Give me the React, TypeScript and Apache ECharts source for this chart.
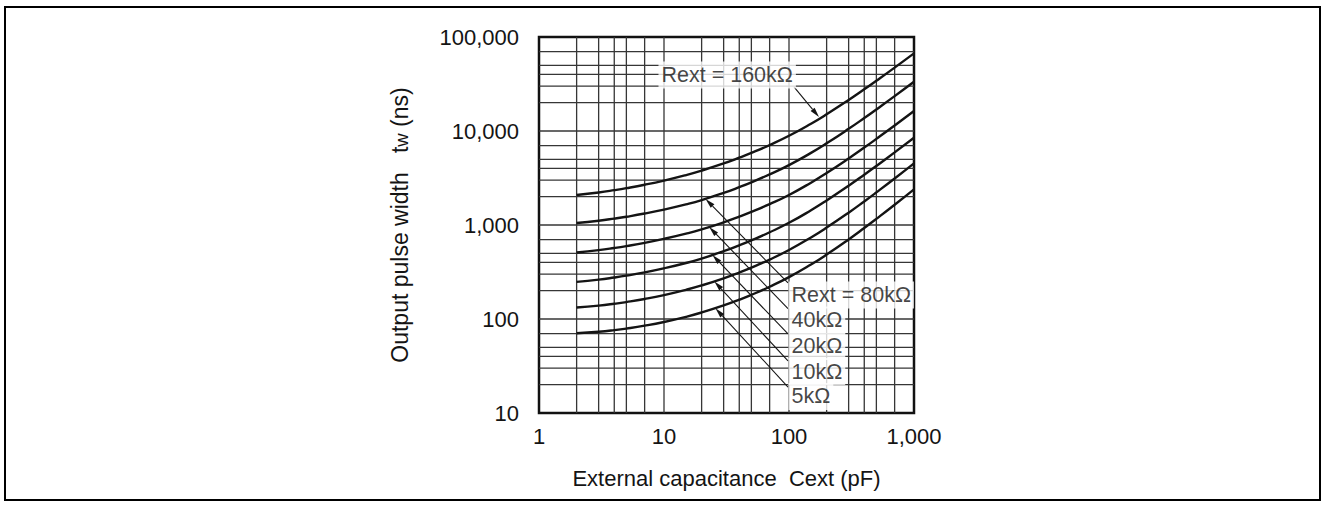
import { useEffect, useRef } from "react";
import * as echarts from "echarts";

// External capacitance Cext (pF) sample points
const capacitancePf = [2, 3, 4, 5, 7, 10, 15, 20, 30, 40, 50, 70, 100, 150, 200, 300, 400, 500, 700, 1000];

// Output pulse width tw (ns), one array per Rext
const tw160k = [2085, 2220, 2347, 2464, 2680, 2970, 3399, 3791, 4515, 5194, 5842, 7089, 8890, 11950, 15060, 21380, 27780, 34250, 47250, 66940];
const tw80k = [1050, 1111, 1170, 1224, 1324, 1459, 1658, 1841, 2195, 2527, 2844, 3455, 4338, 5852, 7395, 10540, 13730, 16970, 23480, 33390];
const tw40k = [510, 540, 569, 596, 645, 712, 809, 898, 1067, 1225, 1376, 1666, 2085, 2820, 3571, 5103, 6660, 8240, 11430, 16290];
const tw20k = [248, 262, 276, 289, 313, 346, 394, 439, 526, 608, 686, 837, 1055, 1434, 1822, 2615, 3427, 4250, 5919, 8470];
const tw10k = [132.5, 138.8, 145.2, 151.4, 163.2, 179.5, 204.4, 227.5, 270.9, 312.1, 351.8, 429, 542.2, 736.8, 937.9, 1353, 1782, 2222, 3123, 4524];
const tw5k = [70.5, 73.2, 76.1, 79.1, 84.9, 93, 105.5, 117.2, 139.3, 160.3, 180.7, 220.4, 278.9, 380, 484.6, 702, 928, 1161, 1641, 2393];

const curveNames = ["160k", "80k", "40k", "20k", "10k", "5k"];
const curveValues = [tw160k, tw80k, tw40k, tw20k, tw10k, tw5k];

// Axis ranges and grid lines
const X_MIN = 1;
const X_MAX = 1000;
const Y_MIN = 10;
const Y_MAX = 100000;
const gridX = [2, 3, 4, 5, 7, 10, 20, 30, 40, 50, 70, 100, 200, 300, 400, 500, 700];
const gridY = [
  20, 30, 40, 50, 70, 100, 200, 300, 400, 500, 700, 1000, 2000, 3000, 4000, 5000, 7000,
  10000, 20000, 30000, 40000, 50000, 70000,
];

// Annotations (data coordinates)
const labelTexts = ["Rext = 160kΩ", "Rext = 80kΩ", "40kΩ", "20kΩ", "10kΩ", "5kΩ"];
const labelAnchorC = [8.95, 98.2, 98.2, 98.2, 98.2, 98.2];
const labelAnchorTw = [39400, 180, 97.6, 51, 27.6, 15];

const arrowTailC = [109.6, 98.2, 98.2, 98.2, 98.2, 98.2];
const arrowTailTw = [29400, 242, 129, 69.3, 35.8, 18.9];
const arrowHeadC = [173.8, 21.5, 23.0, 24.4, 25.3, 25.8];
const arrowHeadTw = [14100, 1895, 952, 480, 251, 130];

const FONT = "'Liberation Sans', Arial, Helvetica, sans-serif";
const INK = "#141414";
const GRID_INK = "#363636";

function withCommas(v: number): string {
  const s = String(Math.round(v));
  return s.replace(/\B(?=(\d{3})+(?!\d))/g, ",");
}

export default function App() {
  const ref = useRef<HTMLDivElement>(null);

  useEffect(() => {
    if (!ref.current) return;
    const chart = echarts.init(ref.current, undefined, { renderer: "svg" });

    const curveSeries = curveValues.map((vals, i) => ({
      name: curveNames[i],
      type: "line",
      data: capacitancePf.map((c, j) => [c, vals[j]]),
      smooth: 0.5,
      showSymbol: false,
      symbol: "none",
      silent: true,
      z: 3,
      lineStyle: { color: INK, width: 2.4 },
    }));

    const option: any = {
      animation: false,
      backgroundColor: "#ffffff",
      textStyle: { fontFamily: FONT },
      grid: {
        left: 539,
        top: 37,
        width: 375,
        height: 376,
        show: true,
        borderColor: "#111111",
        borderWidth: 2.5,
        backgroundColor: "transparent",
      },
      xAxis: {
        type: "log",
        logBase: 10,
        min: X_MIN,
        max: X_MAX,
        name: "External capacitance  Cext (pF)",
        nameLocation: "middle",
        nameGap: 54,
        nameTextStyle: { fontSize: 22, color: INK, fontFamily: FONT },
        axisLine: { show: false },
        axisTick: { show: false },
        splitLine: { show: false },
        minorSplitLine: { show: false },
        axisLabel: {
          fontSize: 22,
          color: INK,
          fontFamily: FONT,
          margin: 12,
          formatter: (v: number) => withCommas(v),
        },
      },
      yAxis: {
        type: "log",
        logBase: 10,
        min: Y_MIN,
        max: Y_MAX,
        name: "Output pulse width   t{s|w} (ns)",
        nameLocation: "middle",
        nameGap: 128,
        nameTextStyle: {
          fontSize: 23,
          color: INK,
          fontFamily: FONT,
          rich: {
            s: { fontSize: 18.5, color: INK, fontFamily: FONT, verticalAlign: "bottom" },
          },
        },
        axisLine: { show: false },
        axisTick: { show: false },
        splitLine: { show: false },
        minorSplitLine: { show: false },
        axisLabel: {
          fontSize: 22,
          color: INK,
          fontFamily: FONT,
          margin: 20,
          formatter: (v: number) => withCommas(v),
        },
      },
      graphic: [
        {
          type: "rect",
          shape: { x: 5, y: 7, width: 1315, height: 493 },
          style: { fill: "none", stroke: "#000", lineWidth: 2 },
          silent: true,
        },
      ],
      series: [
        {
          name: "gridV",
          type: "custom",
          silent: true,
          z: 1,
          data: gridX.map((v) => [v, Y_MIN]),
          renderItem: (_p: any, api: any) => {
            const v = api.value(0);
            const a = api.coord([v, Y_MIN]);
            const b = api.coord([v, Y_MAX]);
            return {
              type: "line",
              shape: { x1: a[0], y1: a[1], x2: b[0], y2: b[1] },
              style: { stroke: GRID_INK, lineWidth: 1.3 },
            };
          },
        },
        {
          name: "gridH",
          type: "custom",
          silent: true,
          z: 1,
          data: gridY.map((v) => [X_MIN, v]),
          renderItem: (_p: any, api: any) => {
            const v = api.value(1);
            const a = api.coord([X_MIN, v]);
            const b = api.coord([X_MAX, v]);
            return {
              type: "line",
              shape: { x1: a[0], y1: a[1], x2: b[0], y2: b[1] },
              style: { stroke: GRID_INK, lineWidth: 1.3 },
            };
          },
        },
        ...curveSeries,
        {
          name: "arrows",
          type: "custom",
          silent: true,
          z: 4,
          encode: { x: [0, 2], y: [1, 3] },
          data: arrowTailC.map((c, i) => [c, arrowTailTw[i], arrowHeadC[i], arrowHeadTw[i]]),
          renderItem: (_p: any, api: any) => {
            const t = api.coord([api.value(0), api.value(1)]);
            const h = api.coord([api.value(2), api.value(3)]);
            const dx = h[0] - t[0];
            const dy = h[1] - t[1];
            const len = Math.hypot(dx, dy) || 1;
            const ux = dx / len;
            const uy = dy / len;
            const L = 10;
            const W = 2.6;
            const bx = h[0] - ux * L;
            const by = h[1] - uy * L;
            return {
              type: "group",
              children: [
                {
                  type: "line",
                  shape: { x1: t[0], y1: t[1], x2: bx, y2: by },
                  style: { stroke: INK, lineWidth: 1.1 },
                },
                {
                  type: "polygon",
                  shape: {
                    points: [
                      [h[0], h[1]],
                      [bx - uy * W, by + ux * W],
                      [bx + uy * W, by - ux * W],
                    ],
                  },
                  style: { fill: INK },
                },
              ],
            };
          },
        },
        {
          name: "labels",
          type: "scatter",
          silent: true,
          z: 6,
          symbolSize: 1,
          itemStyle: { color: "rgba(0,0,0,0)" },
          data: labelAnchorC.map((c, i) => [c, labelAnchorTw[i]]),
          label: {
            show: true,
            position: "right",
            distance: 0,
            formatter: (p: any) => labelTexts[p.dataIndex],
            fontSize: 21.5,
            color: INK,
            fontFamily: FONT,
            backgroundColor: "#ffffff",
            padding: [3, 3, 2, 3],
          },
        },
      ],
    };

    chart.setOption(option);
    return () => {
      chart.dispose();
    };
  }, []);

  return (
    <div
      ref={ref}
      style={{ position: "fixed", left: 0, top: 0, width: 1327, height: 508, background: "#fff" }}
    />
  );
}
